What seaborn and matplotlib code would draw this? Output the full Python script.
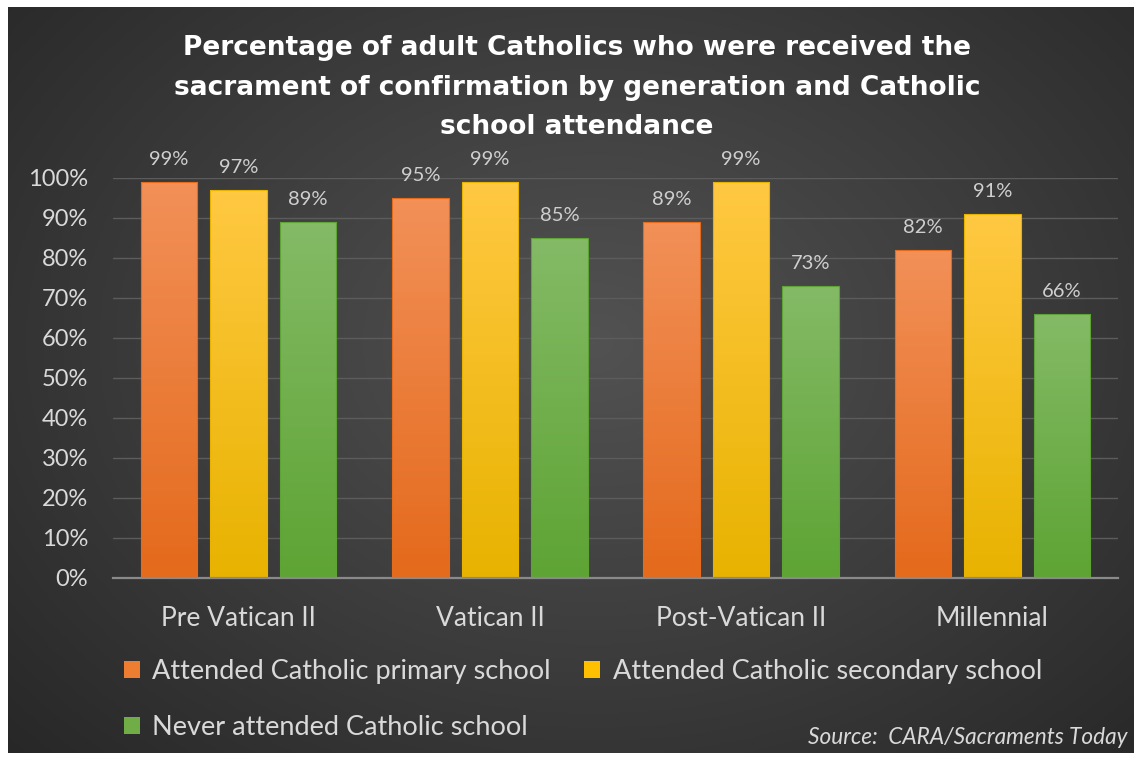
"""
Confirmation rates of adult Catholics by generation and school attendance.
Grouped bars on a dark radial background, Excel-like styling.
"""

import numpy as np
import pandas as pd

import seaborn as sns
import matplotlib
matplotlib.use('Agg')
import matplotlib.pyplot as plt
from matplotlib import ticker as mticker
from matplotlib.colors import LinearSegmentedColormap
from matplotlib.patches import Patch


########  parameter setup  ########

GENERATIONS = ['Pre Vatican II', 'Vatican II', 'Post-Vatican II', 'Millennial']
SERIES = [
    'Attended Catholic primary school',
    'Attended Catholic secondary school',
    'Never attended Catholic school',
]
PRIMARY = [99, 95, 89, 82]
SECONDARY = [97, 99, 99, 91]
NEVER = [89, 85, 73, 66]

TITLE = ('Percentage of adult Catholics who were received the\n'
         'sacrament of confirmation by generation and Catholic\n'
         'school attendance')
SOURCE = 'Source:  CARA/Sacraments Today'

COLORS = ['#ED7D31', '#FFC000', '#70AD47']
# top / bottom colour of each bar's vertical gradient
GRADIENTS = [
    ('#F29058', '#E46A1C'),
    ('#FFC842', '#E8B300'),
    ('#84BA66', '#5EA434'),
]

TEXT_COLOR = '#D9D9D9'
FONT = 'Lato'

W_PX, H_PX, DPI = 1138, 757, 100

###################################


########  draw plot  ########

df = pd.DataFrame({
    'generation': GENERATIONS * 3,
    'school': np.repeat(SERIES, len(GENERATIONS)),
    'pct': PRIMARY + SECONDARY + NEVER,
})

sns.set_style('dark')
plt.rcParams['font.family'] = [FONT, 'DejaVu Sans']

fig = plt.figure(figsize=(W_PX/DPI, H_PX/DPI), dpi=DPI, facecolor='white')

# dark radial backdrop inside a thin white frame
bg = fig.add_axes([8/W_PX, 4/H_PX, 1 - 8/W_PX - 4/W_PX, 1 - 7/H_PX - 4/H_PX], zorder=-10)
yy, xx = np.mgrid[0:1:400j, 0:1:600j]
r = np.sqrt(((xx - 0.52)/0.75)**2 + ((yy - 0.45)/0.85)**2)
bg_cmap = LinearSegmentedColormap.from_list('bg', ['#525252', '#3c3c3c', '#252525'])
bg.imshow(np.clip(r, 0, 1), cmap=bg_cmap, aspect='auto', vmin=0, vmax=1)
bg.set_axis_off()

ax = fig.add_axes([113/W_PX, 1 - 578/H_PX, (1118 - 113)/W_PX, 400/H_PX])
ax.patch.set_alpha(0)

sns.barplot(data=df, x='generation', y='pct', hue='school',
            palette=COLORS, width=0.83, gap=0.19, legend=False,
            edgecolor='none', ax=ax, zorder=3)

# vertical gradient fill, clipped to each bar
ax.set_xlim(-0.5, len(GENERATIONS) - 0.5)
ax.set_ylim(0, 100)
for container, (top, bottom) in zip(ax.containers, GRADIENTS):
    cmap = LinearSegmentedColormap.from_list('g', [top, bottom])
    for bar, val in zip(container, container.datavalues):
        x0, w, h = bar.get_x(), bar.get_width(), bar.get_height()
        bar.set_facecolor('none')
        bar.set_edgecolor(bottom)
        bar.set_linewidth(0.8)
        im = ax.imshow(np.linspace(0, 1, 64).reshape(-1, 1), cmap=cmap,
                       extent=(x0, x0 + w, 0, h), aspect='auto', zorder=2.5,
                       origin='upper')
        im.set_clip_path(bar)
        ax.annotate(f'{val:.0f}%', (x0 + w/2, h), xytext=(0, 10),
                    textcoords='offset points', ha='center', va='bottom',
                    fontsize=14.5, color='#CFCFCF', annotation_clip=False)

ax.set_xlim(-0.5, len(GENERATIONS) - 0.5)
ax.set_ylim(0, 100)

# aesthetics
ax.yaxis.set_major_locator(mticker.MultipleLocator(10))
ax.yaxis.set_major_formatter(mticker.FormatStrFormatter('%d%%'))
ax.tick_params(axis='y', length=0, pad=18, labelsize=17, labelcolor=TEXT_COLOR)
ax.tick_params(axis='x', length=0, pad=20, labelsize=19, labelcolor=TEXT_COLOR)
ax.grid(True, axis='y', color='#5C5C5C', linewidth=1, zorder=0)
ax.grid(False, axis='x')
ax.set_axisbelow(True)
ax.set_xlabel('')
ax.set_ylabel('')
for side in ['top', 'right', 'left']:
    ax.spines[side].set_visible(False)
ax.spines['bottom'].set_color('#8A8A8A')
ax.spines['bottom'].set_linewidth(1.6)
ax.spines['bottom'].set_zorder(4)

# title
fig.text(0.507, 1 - 35/H_PX, TITLE, ha='center', va='top', fontsize=19,
         fontweight='bold', color='white', family=['DejaVu Sans'],
         linespacing=1.68)

# legend, row-major order with two columns
handles = [Patch(facecolor=c, edgecolor='none') for c in COLORS]
order = [0, 2, 1]
fig.legend([handles[i] for i in order], [SERIES[i] for i in order],
           ncol=2, loc='upper left', bbox_to_anchor=(124/W_PX, 1 - 659/H_PX),
           frameon=False, fontsize=19.5, labelcolor=TEXT_COLOR,
           handlelength=0.6, handleheight=0.6, handletextpad=0.45,
           columnspacing=1.22, labelspacing=1.15, borderpad=0, borderaxespad=0)

# source note
fig.text(1127/W_PX, 1 - 738/H_PX, SOURCE, ha='right', va='center',
         fontsize=16.3, style='italic', color=TEXT_COLOR)

plt.savefig('out.png', dpi=DPI, facecolor='white')
plt.close()

###################################
